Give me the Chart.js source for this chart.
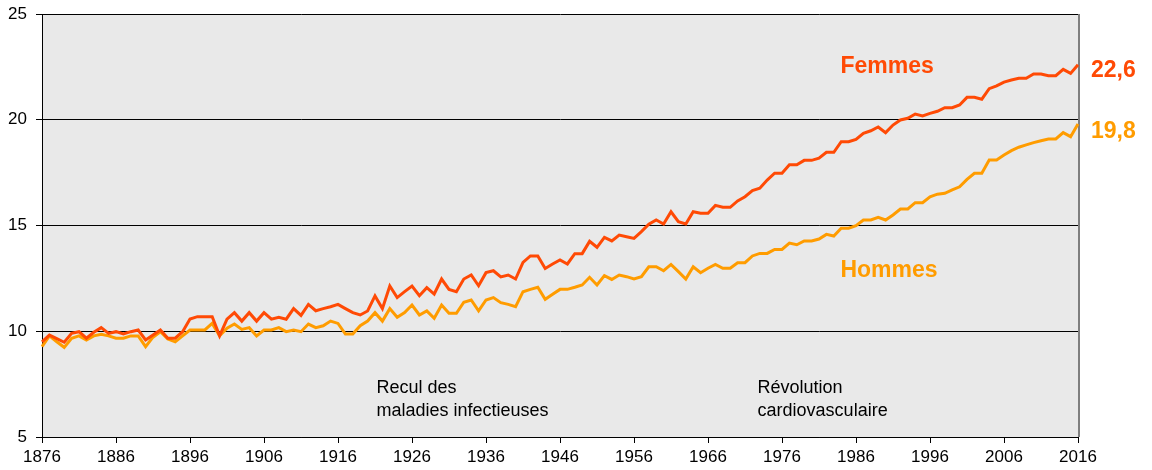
<!DOCTYPE html>
<html>
<head>
<meta charset="utf-8">
<script src="https://cdn.jsdelivr.net/npm/chart.js@4"></script>
<style>
  html, body { margin: 0; padding: 0; background: #fff; }
  #wrap { width: 1152px; height: 470px; }
</style>
</head>
<body>
<div id="wrap"><canvas id="esperanceChart" width="1152" height="470"></canvas></div>
<script>
const startYear = 1876;
const endYear = 2016;
const years = [];
for (let y = startYear; y <= endYear; y++) years.push(String(y));

const femmes = [
  9.50, 9.82, 9.65, 9.48, 9.90, 9.98, 9.67, 9.95, 10.17, 9.90,
  9.98, 9.87, 9.98, 10.06, 9.59, 9.82, 10.06, 9.67, 9.67, 9.98,
  10.58, 10.69, 10.69, 10.69, 9.78, 10.57, 10.88, 10.48, 10.88, 10.48,
  10.88, 10.57, 10.66, 10.57, 11.07, 10.75, 11.27, 10.97, 11.07, 11.16,
  11.27, 11.07, 10.88, 10.77, 10.96, 11.67, 11.07, 12.14, 11.59, 11.87,
  12.14, 11.68, 12.06, 11.76, 12.47, 11.98, 11.87, 12.47, 12.66, 12.15,
  12.77, 12.86, 12.57, 12.66, 12.47, 13.26, 13.56, 13.56, 12.97, 13.18,
  13.37, 13.18, 13.67, 13.67, 14.25, 13.97, 14.44, 14.27, 14.55, 14.47,
  14.39, 14.71, 15.06, 15.26, 15.07, 15.65, 15.18, 15.07, 15.65, 15.58,
  15.58, 15.95, 15.86, 15.86, 16.16, 16.36, 16.65, 16.76, 17.15, 17.47,
  17.47, 17.87, 17.87, 18.08, 18.08, 18.18, 18.46, 18.46, 18.96, 18.96,
  19.07, 19.36, 19.48, 19.66, 19.39, 19.75, 19.99, 20.07, 20.27, 20.18,
  20.30, 20.40, 20.57, 20.57, 20.70, 21.06, 21.06, 20.97, 21.47, 21.60,
  21.78, 21.88, 21.96, 21.96, 22.16, 22.16, 22.08, 22.08, 22.38, 22.19,
  22.60
];

const hommes = [
  9.27, 9.78, 9.50, 9.24, 9.67, 9.78, 9.59, 9.78, 9.86, 9.78,
  9.67, 9.67, 9.78, 9.78, 9.27, 9.72, 9.98, 9.63, 9.50, 9.78,
  10.06, 10.06, 10.06, 10.37, 9.78, 10.14, 10.34, 10.09, 10.17, 9.78,
  10.06, 10.06, 10.17, 9.98, 10.06, 9.98, 10.34, 10.17, 10.26, 10.48,
  10.37, 9.87, 9.87, 10.26, 10.48, 10.88, 10.48, 11.07, 10.66, 10.88,
  11.24, 10.77, 10.96, 10.61, 11.24, 10.85, 10.85, 11.37, 11.48, 10.97,
  11.48, 11.59, 11.35, 11.27, 11.16, 11.87, 11.98, 12.08, 11.51, 11.75,
  11.98, 11.98, 12.08, 12.19, 12.55, 12.19, 12.63, 12.45, 12.66, 12.58,
  12.47, 12.58, 13.05, 13.05, 12.86, 13.16, 12.82, 12.47, 13.05, 12.77,
  12.98, 13.16, 12.98, 12.98, 13.24, 13.24, 13.56, 13.68, 13.68, 13.87,
  13.87, 14.17, 14.09, 14.27, 14.27, 14.36, 14.58, 14.50, 14.87, 14.87,
  14.99, 15.26, 15.26, 15.39, 15.26, 15.50, 15.78, 15.78, 16.08, 16.08,
  16.36, 16.48, 16.52, 16.68, 16.83, 17.18, 17.47, 17.47, 18.10, 18.10,
  18.33, 18.54, 18.70, 18.81, 18.92, 19.01, 19.09, 19.09, 19.39, 19.20,
  19.80
];

const yTicks = [5, 10, 15, 20, 25];

const colFemmes = '#ff4a05';
const colHommes = '#ff9c00';
const tickFont = { family: "'Liberation Sans Narrow', 'Arial Narrow', 'Liberation Sans', sans-serif", size: 17 };
const textFamily = "'Liberation Sans', Arial, sans-serif";

const fmt = v => v.toFixed(1).replace('.', ',');

// fond gris, bordure droite, textes
const decor = {
  id: 'decor',
  beforeDraw(chart) {
    const a = chart.chartArea, c = chart.ctx;
    c.save();
    c.fillStyle = '#e9e9e9';
    c.fillRect(a.left, a.top, a.right - a.left, a.bottom - a.top);
    c.restore();
  },
  beforeDatasetsDraw(chart) {
    const a = chart.chartArea, c = chart.ctx;
    c.save();
    c.strokeStyle = '#7f7f7f';
    c.lineWidth = 2;
    c.beginPath();
    c.moveTo(a.right + 1, a.top);
    c.lineTo(a.right + 1, a.bottom);
    c.stroke();
    c.restore();
  },
  afterDatasetsDraw(chart) {
    const xs = chart.scales.x, ys = chart.scales.y, c = chart.ctx;
    const px = yr => xs.getPixelForValue(yr - startYear);
    c.save();
    c.textBaseline = 'alphabetic';
    c.textAlign = 'left';

    c.font = 'bold 23px ' + textFamily;
    c.fillStyle = colFemmes;
    c.fillText('Femmes', px(1983.9), ys.getPixelForValue(22.21));
    c.fillText(fmt(femmes[femmes.length - 1]), xs.right + 13, ys.getPixelForValue(22.02));
    c.fillStyle = colHommes;
    c.fillText('Hommes', px(1983.9), ys.getPixelForValue(12.56));
    c.fillText(fmt(hommes[hommes.length - 1]), xs.right + 13, ys.getPixelForValue(19.15));

    c.font = '18px ' + textFamily;
    c.fillStyle = '#000';
    c.fillText('Recul des', px(1921.2), ys.getPixelForValue(7.08));
    c.fillText('maladies infectieuses', px(1921.2), ys.getPixelForValue(6.0));
    c.fillText('Révolution', px(1972.7), ys.getPixelForValue(7.08));
    c.fillText('cardiovasculaire', px(1972.7), ys.getPixelForValue(6.0));
    c.restore();
  }
};

new Chart(document.getElementById('esperanceChart').getContext('2d'), {
  type: 'line',
  data: {
    labels: years,
    datasets: [{
      label: 'Femmes',
      data: femmes,
      borderColor: colFemmes,
      borderWidth: 3,
      pointRadius: 0,
      tension: 0,
      fill: false
    },
    {
      label: 'Hommes',
      data: hommes,
      borderColor: colHommes,
      borderWidth: 3,
      pointRadius: 0,
      tension: 0,
      fill: false
    }]
  },
  options: {
    responsive: false,
    animation: false,
    layout: { padding: { left: 0, right: 74, top: 14, bottom: 0 } },
    plugins: {
      legend: { display: false },
      tooltip: { enabled: false }
    },
    scales: {
      x: {
        offset: false,
        afterFit: s => { s.height = 33; },
        border: { color: '#000', width: 1 },
        grid: {
          drawOnChartArea: false,
          color: '#000',
          tickLength: 6
        },
        ticks: {
          autoSkip: false,
          maxRotation: 0,
          padding: 4,
          color: '#000',
          font: tickFont,
          callback: function (val, i) {
            const yr = Number(this.getLabelForValue(val));
            return (yr - startYear) % 10 === 0 ? String(yr) : null;
          }
        }
      },
      y: {
        min: yTicks[0],
        max: yTicks[yTicks.length - 1],
        afterFit: s => { s.width = 42; s.paddingTop = 0; s.paddingBottom = 0; },
        afterBuildTicks: s => { s.ticks = yTicks.map(v => ({ value: v })); },
        border: { color: '#000', width: 1 },
        grid: {
          color: '#000',
          tickLength: 6
        },
        ticks: {
          padding: 9,
          color: '#000',
          font: tickFont
        }
      }
    }
  },
  plugins: [decor]
});
</script>
</body>
</html>
